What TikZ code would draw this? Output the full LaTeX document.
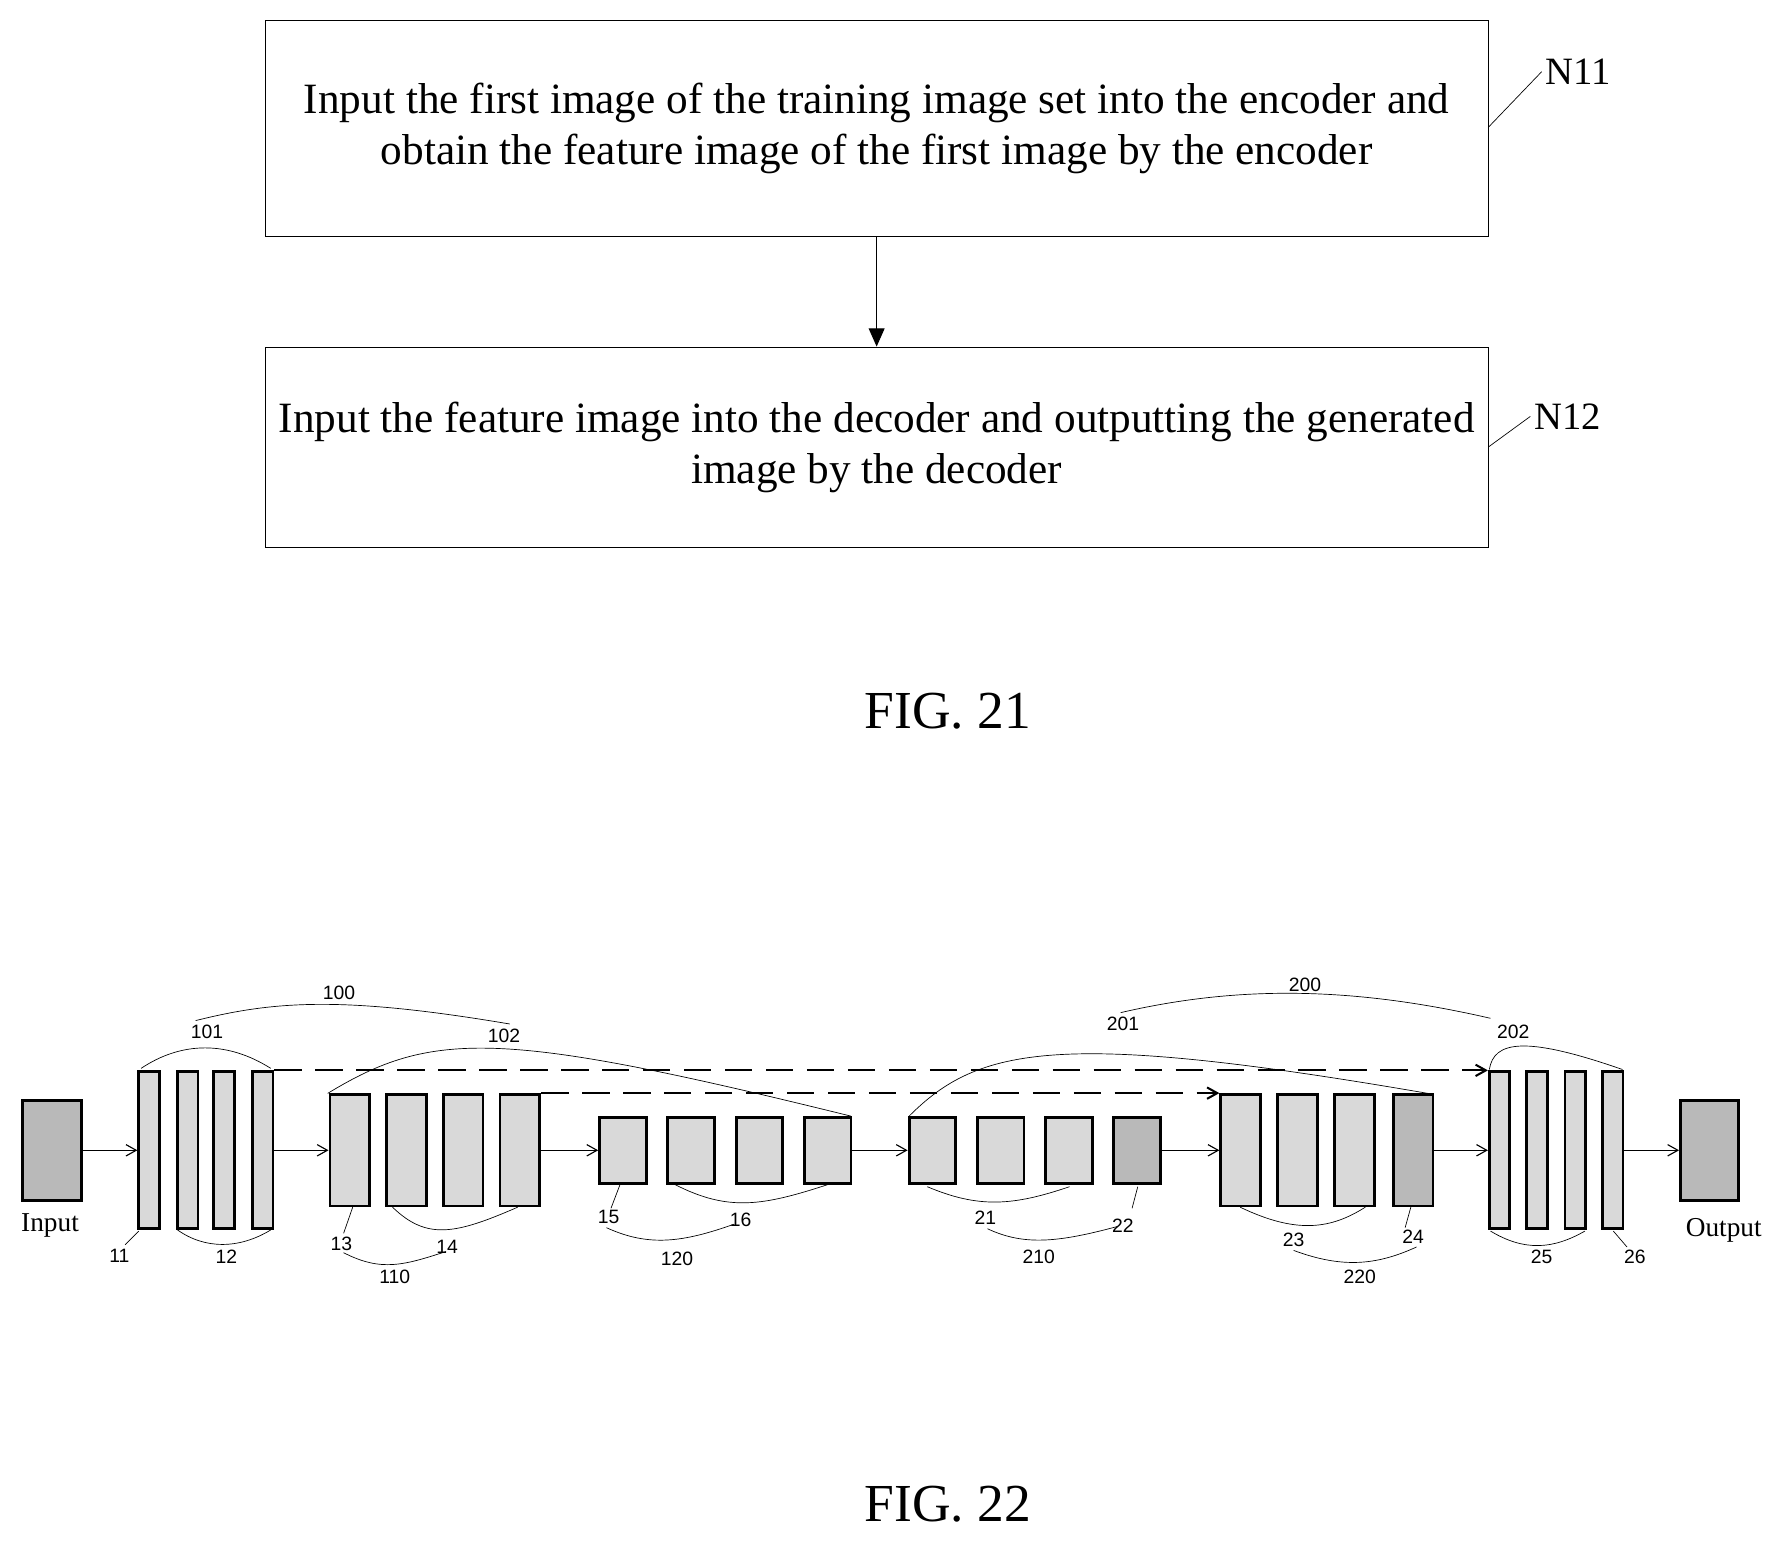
\documentclass[tikz,border=0pt]{standalone}
\usepackage{fontspec}
\setmainfont{Liberation Serif}
\newfontfamily\numf{Liberation Sans}
\usetikzlibrary{arrows.meta}
\begin{document}
\begin{tikzpicture}[x=1pt,y=-1pt,
  box/.style={draw,line width=0.8pt,minimum width=1075pt,align=center,font=\fontsize{38}{45}\selectfont},
  blk/.style={draw,line width=2.5pt,fill=gray!30,inner sep=0pt},
  dk/.style={blk,fill=gray!55},
  num/.style={font=\numf\fontsize{17}{19}\selectfont,inner sep=1pt},
  cv/.style={line width=0.6pt},
  ar/.style={-{Straight Barb[length=9pt,width=10pt]},line width=1pt},
  skip/.style={ar,dash pattern=on 24pt off 12pt,line width=1.8pt}]
\useasboundingbox (0,0) rectangle (1568,1355);
% FIG 21
\node[box,minimum height=190pt] (b1) at (770.5,113) {Input the first image of the training image set into the encoder and\\obtain the feature image of the first image by the encoder};
\node[box,minimum height=176pt] (b2) at (770.5,393) {Input the feature image into the decoder and outputting the generated\\image by the decoder};
\draw[-{Triangle[length=16pt,width=14pt]},line width=0.8pt] (b1.south) -- (b2.north);
\node[font=\fontsize{34}{36}\selectfont,anchor=west] (n11) at (1355,63) {N11};
\node[font=\fontsize{34}{36}\selectfont,anchor=west] (n12) at (1345,366) {N12};
\draw[line width=0.6pt] (1308,112) -- (n11.west);
\draw[line width=0.6pt] (1308,393) -- (n12.west);
\node[font=\fontsize{47}{50}\selectfont] (f21) at (833,625) {FIG. 21};
\node[font=\fontsize{47}{50}\selectfont] (f22) at (833,1322) {FIG. 22};
% FIG 22 blocks
\node[dk,minimum width=52pt,minimum height=88pt] (in) at (46,1011) {};
\node[font=\fontsize{24}{26}\selectfont] (inl) at (44,1077) {Input};
\node[dk,minimum width=51pt,minimum height=88pt] (out) at (1502.5,1011) {};
\node[font=\fontsize{24}{26}\selectfont] (outl) at (1515,1081) {Output};
\foreach \n/\x in {a1/131,a2/165,a3/197,a4/231}{\node[blk,minimum width=18pt,minimum height=138pt] (\n) at (\x,1011) {};}
\foreach \n/\x in {b1/307.5,b2/357,b3/407,b4/457}{\node[blk,minimum width=35pt,minimum height=98pt] (\n) at (\x,1011) {};}
\foreach \n/\x in {c1/547.5,c2/607.5,c3/667.5,c4/727.5}{\node[blk,minimum width=41pt,minimum height=58pt] (\n) at (\x,1011) {};}
\foreach \n/\x in {d1/819.5,d2/879.5,d3/939.5}{\node[blk,minimum width=41pt,minimum height=58pt] (\n) at (\x,1011) {};}
\node[dk,minimum width=41pt,minimum height=58pt] (d4) at (999.5,1011) {};
\foreach \n/\x in {e1/1090.5,e2/1140.5,e3/1190.5}{\node[blk,minimum width=35pt,minimum height=98pt] (\n) at (\x,1011) {};}
\node[dk,minimum width=35pt,minimum height=98pt] (e4) at (1242,1011) {};
\foreach \n/\x in {f1/1318,f2/1351,f3/1384.5,f4/1417.5}{\node[blk,minimum width=18pt,minimum height=138pt] (\n) at (\x,1011) {};}
% arrows
\draw[ar] (in.east) -- (a1.west);
\draw[ar] (a4.east) -- (b1.west);
\draw[ar] (b4.east) -- (c1.west);
\draw[ar] (c4.east) -- (d1.west);
\draw[ar] (d4.east) -- (e1.west);
\draw[ar] (e4.east) -- (f1.west);
\draw[ar] (f4.east) -- (out.west);
\draw[skip] (a4.north east) -- (f1.north west);
\draw[skip] (b4.north east) -- (e1.north west);
% labels
\node[num] (l100) at (298,873) {100};
\node[num] (l101) at (182,907) {101};
\node[num] (l102) at (443,910) {102};
\node[num] (l11) at (105,1104) {11};
\node[num] (l12) at (199,1105) {12};
\node[num] (l13) at (300,1093) {13};
\node[num] (l14) at (393,1096) {14};
\node[num] (l110) at (347,1122) {110};
\node[num] (l15) at (535,1070) {15};
\node[num] (l16) at (651,1072) {16};
\node[num] (l120) at (595,1106) {120};
\node[num] (l21) at (866,1070) {21};
\node[num] (l22) at (987,1077) {22};
\node[num] (l210) at (913,1105) {210};
\node[num] (l200) at (1147,866) {200};
\node[num] (l201) at (987,900) {201};
\node[num] (l202) at (1330,907) {202};
\node[num] (l23) at (1137,1090) {23};
\node[num] (l24) at (1242,1087) {24};
\node[num] (l220) at (1195,1122) {220};
\node[num] (l25) at (1355,1105) {25};
\node[num] (l26) at (1437,1105) {26};
% curves
\draw[cv] (124,939) .. controls (160,915) and (200,915) .. (238,939);
\draw[cv] (172,897) .. controls (240,880) and (300,875) .. (448,900);
\draw[cv] (288,961) .. controls (380,905) and (440,905) .. (748,981);
\draw[cv] (122,1082) -- (110,1094);
\draw[cv] (156,1081) .. controls (180,1098) and (210,1098) .. (238,1081);
\draw[cv] (310,1061) -- (302,1084);
\draw[cv] (345,1061) .. controls (375,1090) and (400,1085) .. (455,1061);
\draw[cv] (302,1101) .. controls (335,1118) and (355,1112) .. (392,1100);
\draw[cv] (545,1041) -- (537,1062);
\draw[cv] (593,1041) .. controls (640,1065) and (670,1060) .. (728,1041);
\draw[cv] (533,1079) .. controls (570,1096) and (600,1092) .. (645,1076);
\draw[cv] (815,1043) .. controls (860,1062) and (890,1060) .. (940,1043);
\draw[cv] (1000,1043) -- (995,1062);
\draw[cv] (868,1080) .. controls (900,1095) and (930,1092) .. (982,1078);
\draw[cv] (799,981) .. controls (860,920) and (930,905) .. (1255,961);
\draw[cv] (985,890) .. controls (1080,868) and (1180,865) .. (1310,895);
\draw[cv] (1309,940) .. controls (1313,915) and (1340,910) .. (1426,940);
\draw[cv] (1090,1061) .. controls (1140,1085) and (1170,1080) .. (1200,1061);
\draw[cv] (1240,1061) -- (1235,1079);
\draw[cv] (1137,1099) .. controls (1180,1115) and (1210,1112) .. (1245,1096);
\draw[cv] (1310,1082) .. controls (1340,1100) and (1365,1098) .. (1393,1082);
\draw[cv] (1418,1082) -- (1430,1096);
\end{tikzpicture}
\end{document}
